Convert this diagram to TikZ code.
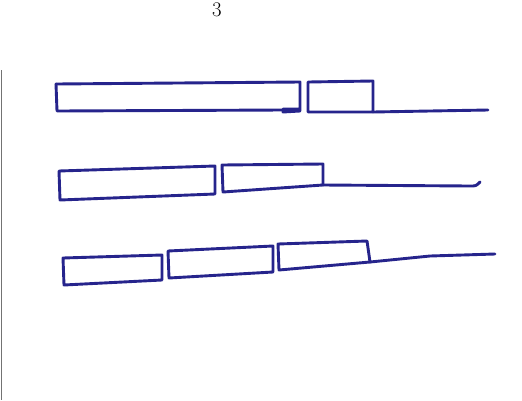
\documentclass[tikz,border=0pt]{standalone}
\begin{document}
\begin{tikzpicture}[x=1pt,y=-1pt,
  pen/.style={draw=penblue,line width=2.9pt,line join=round,line cap=round},
  edge/.style={draw=black!55,line width=1pt}]
\definecolor{penblue}{RGB}{38,36,140}
\useasboundingbox (0,0) rectangle (522,400);
\fill[white] (0,0) rectangle (522,400);
\draw[edge] (1,70) -- (1,400);
\node[font=\huge, inner sep=0pt, anchor=base] (num) at (217,16) {3};
% row 1
\draw[pen] (56,84) -- (300,82) -- (300,111) -- (283,112) -- (283,109) -- (300,109);
\draw[pen] (56,84) -- (57,111) -- (283,110);
\draw[pen] (308,82) -- (373,81) -- (373,112) -- (308,112) -- cycle;
\coordinate (r1s) at (373,112);
\coordinate (r1e) at (488,110);
\draw[pen] (r1s) -- (430,111) -- (r1e);
% row 2
\draw[pen] (59,171) -- (215,166) -- (215,194) -- (60,200) -- cycle;
\draw[pen] (222,165) -- (323,164) -- (323,185) -- (223,192) -- cycle;
\coordinate (r2s) at (323,185);
\coordinate (r2e) at (480,182);
\draw[pen] (r2s) -- (470,186) .. controls (476,186) .. (r2e);
% row 3
\draw[pen] (63,258) -- (162,255) -- (162,280) -- (64,285) -- cycle;
\draw[pen] (168,251) -- (273,246) -- (273,272) -- (169,278) -- cycle;
\draw[pen] (278,244) -- (367,241) -- (370,262) -- (279,270) -- cycle;
\coordinate (r3s) at (370,262);
\coordinate (r3e) at (495,254);
\draw[pen] (r3s) -- (430,256) -- (r3e);
\end{tikzpicture}
\end{document}
